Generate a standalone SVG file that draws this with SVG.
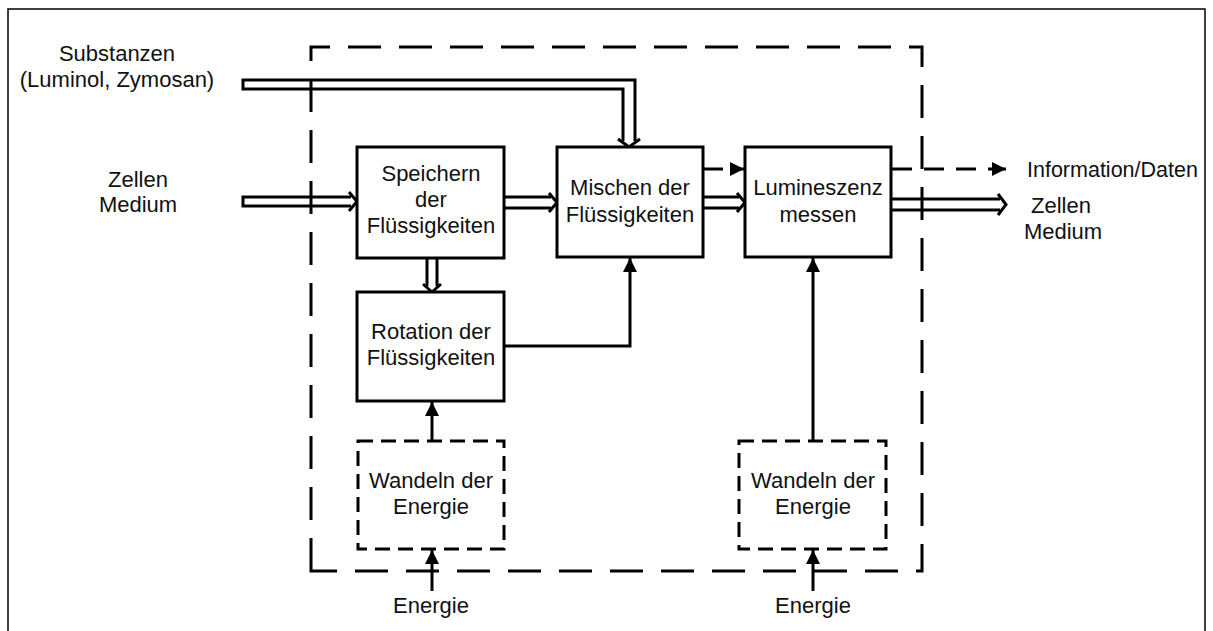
<svg xmlns="http://www.w3.org/2000/svg" width="1213" height="631" viewBox="0 0 1213 631">
<defs>
<marker id="ah" viewBox="0 0 14 14" refX="14" refY="7" markerWidth="14" markerHeight="14" markerUnits="userSpaceOnUse" orient="auto">
<path d="M0,0 L14,7 L0,14 Z" fill="#000"/>
</marker>
<style>
text{font-family:"Liberation Sans",Arial,sans-serif;font-size:22px;fill:#111;text-anchor:middle}
.box{fill:#fff;stroke:#000;stroke-width:3}
.dbox{fill:#fff;stroke:#000;stroke-width:3;stroke-dasharray:15 8}
.frame{fill:none;stroke:#000;stroke-width:3;stroke-dasharray:33 18}
.pipe{fill:none;stroke:#000;stroke-width:3;stroke-linejoin:miter}
.line{fill:none;stroke:#000;stroke-width:3;marker-end:url(#ah)}
.dline{fill:none;stroke:#000;stroke-width:3;stroke-dasharray:20 12;marker-end:url(#ah)}
</style>
</defs>
<rect x="0" y="0" width="1213" height="631" fill="#fff"/>
<rect x="8" y="9" width="1197" height="640" fill="none" stroke="#000" stroke-width="1.5"/>

<g id="frame">
<path class="frame" d="M311,571 L311,47 L922,47 L922,571 Z"/>
</g>

<g id="connectors">
<path class="pipe" d="M623,141 L623,89 L243,89 L243,80 L635,80 L635,141"/>
<path class="pipe" d="M618,139 L629,147 L640,139"/>
<path class="pipe" d="M351,206 L243,206 L243,197 L351,197"/>
<path class="pipe" d="M349,192 L357,201.5 L349,211"/>
<path class="pipe" d="M504,197 L551,197 M504,208 L551,208"/>
<path class="pipe" d="M549,193 L557,202.5 L549,212"/>
<path class="pipe" d="M703,197 L739,197 M703,208 L739,208"/>
<path class="pipe" d="M737,193 L745,202.5 L737,212"/>
<path class="pipe" d="M891,199 L1000,199 M891,210 L1000,210"/>
<path class="pipe" d="M998,194 L1006,204.5 L998,215"/>
<path class="pipe" d="M427,258 L427,286 M437,258 L437,286"/>
<path class="pipe" d="M423,284 L432,292 L441,284"/>
<path class="dline" d="M703,169 L744,169"/>
<path class="dline" d="M892,169 L1006,169"/>
<path class="line" d="M504,346 L630,346 L630,258"/>
<path class="line" d="M432,441 L432,402"/>
<path class="line" d="M813,441 L813,258"/>
<path class="line" d="M432,591 L432,550"/>
<path class="line" d="M813,591 L813,550"/>
</g>

<g id="speichern">
<rect class="box" x="357" y="147" width="147" height="111"/>
<text x="431" y="181">Speichern</text>
<text x="431" y="207">der</text>
<text x="431" y="233">Flüssigkeiten</text>
</g>

<g id="rotation">
<rect class="box" x="357" y="292" width="147" height="109"/>
<text x="431" y="339">Rotation der</text>
<text x="431" y="365">Flüssigkeiten</text>
</g>

<g id="mischen">
<rect class="box" x="557" y="147" width="146" height="110"/>
<text x="630" y="195">Mischen der</text>
<text x="630" y="222">Flüssigkeiten</text>
</g>

<g id="lumineszenz">
<rect class="box" x="745" y="147" width="146" height="110"/>
<text x="818" y="195">Lumineszenz</text>
<text x="818" y="222">messen</text>
</g>

<g id="wandeln1">
<rect class="dbox" x="358" y="441" width="146" height="108"/>
<text x="431" y="488">Wandeln der</text>
<text x="431" y="514">Energie</text>
</g>

<g id="wandeln2">
<rect class="dbox" x="739" y="441" width="147" height="108"/>
<text x="813" y="488">Wandeln der</text>
<text x="813" y="514">Energie</text>
</g>

<g id="labels">
<text x="117" y="61">Substanzen</text>
<text x="117" y="87">(Luminol, Zymosan)</text>
<text x="138" y="187">Zellen</text>
<text x="138" y="212">Medium</text>
<text x="1027" y="177" style="text-anchor:start;font-size:21.5px">Information/Daten</text>
<text x="1061" y="213">Zellen</text>
<text x="1063" y="239">Medium</text>
<text x="431" y="613">Energie</text>
<text x="813" y="613">Energie</text>
</g>
</svg>
